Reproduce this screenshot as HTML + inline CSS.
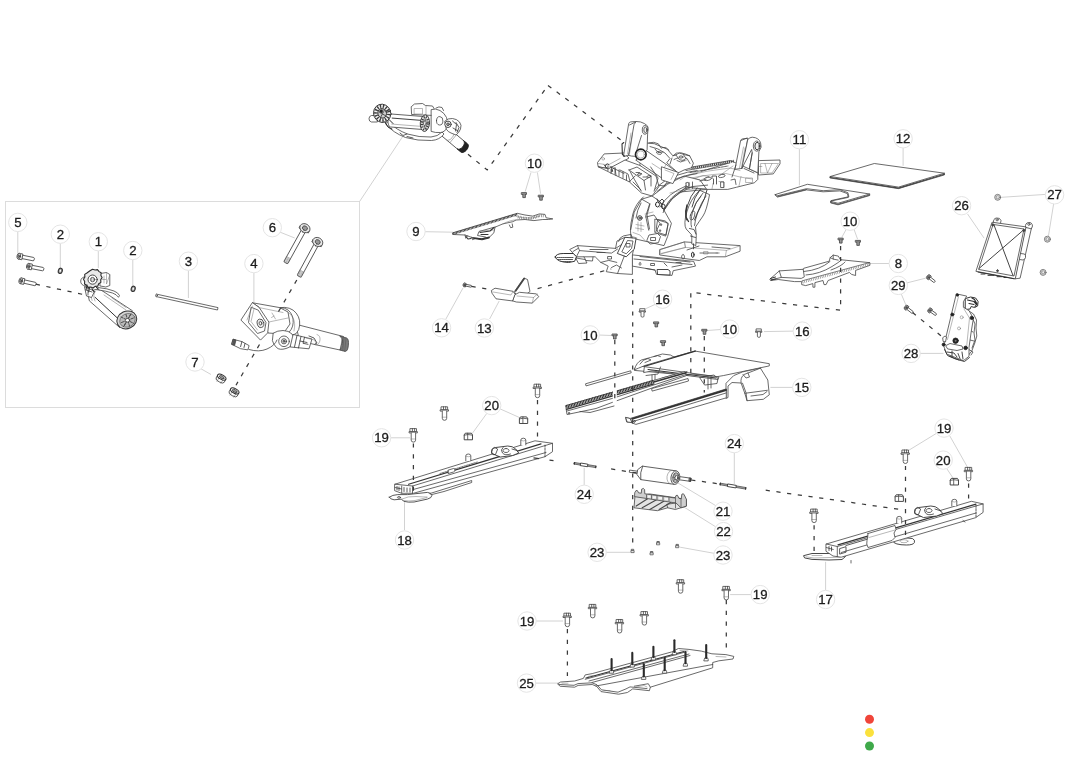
<!DOCTYPE html>
<html lang="en"><head><meta charset="utf-8"><title>Parts diagram</title>
<style>
html,body{margin:0;padding:0;background:#fff;}
body{width:1080px;height:764px;overflow:hidden;font-family:"Liberation Sans",sans-serif;}
svg{display:block;filter:blur(.45px)}
.ld{stroke:#d2d2d2;stroke-width:1;fill:none}
.ds{stroke:#3a3a3a;stroke-width:1.25;fill:none;stroke-dasharray:4.2 6.6}
.p{stroke:#444;stroke-width:.8;fill:none;stroke-linejoin:round;stroke-linecap:round}
.p .f,.f{fill:#fff}
.p .fd{fill:#999}
.p .g{fill:#e9e9e9}
.p .k{fill:#333}
.p .t{stroke-width:.5;stroke:#707070}
.p .h{stroke-width:1.2;stroke:#333}
.p .hh{stroke-width:1.8;stroke:#2a2a2a}
.lc{fill:#fff;stroke:#e4e4e4;stroke-width:1}
.lt{font-family:"Liberation Sans",sans-serif;font-size:13.2px;fill:#1c1c1c;stroke:#1c1c1c;stroke-width:.3px;text-anchor:middle}
</style></head>
<body>
<svg width="1080" height="764" viewBox="0 0 1080 764">
<rect x="5.5" y="201.5" width="354" height="206" fill="none" stroke="#dcdcdc" stroke-width="1"/>
<line x1="359.6" y1="201.5" x2="403" y2="136" class="ld"/>
<line x1="17.8" y1="231.7" x2="17.8" y2="253.3" class="ld"/>
<line x1="60.3" y1="243" x2="60.3" y2="267.5" class="ld"/>
<line x1="98.3" y1="251" x2="98.3" y2="268" class="ld"/>
<line x1="132.8" y1="259.7" x2="132.8" y2="285.8" class="ld"/>
<line x1="188.4" y1="270.5" x2="188.4" y2="298" class="ld"/>
<line x1="253.9" y1="273" x2="253.9" y2="302.4" class="ld"/>
<line x1="279.7" y1="232" x2="294.7" y2="238" class="ld"/>
<line x1="531" y1="172.4" x2="525.2" y2="191.6" class="ld"/>
<line x1="537.4" y1="172.4" x2="540.6" y2="193.7" class="ld"/>
<line x1="424.5" y1="231.7" x2="453.3" y2="232.2" class="ld"/>
<line x1="445.9" y1="319" x2="463" y2="288" class="ld"/>
<line x1="489.6" y1="319" x2="499.2" y2="301" class="ld"/>
<line x1="598.5" y1="335" x2="612" y2="335.5" class="ld"/>
<line x1="721" y1="329.5" x2="707" y2="330.5" class="ld"/>
<line x1="793.7" y1="331.1" x2="763.9" y2="331.6" class="ld"/>
<line x1="793" y1="387.4" x2="770.4" y2="387.4" class="ld"/>
<line x1="656" y1="304" x2="645" y2="309" class="ld"/>
<line x1="799.4" y1="148.6" x2="799.4" y2="185.3" class="ld"/>
<line x1="903.1" y1="147.6" x2="903.1" y2="165.8" class="ld"/>
<line x1="846.4" y1="229" x2="841.8" y2="237.3" class="ld"/>
<line x1="853.9" y1="229" x2="857.6" y2="239.2" class="ld"/>
<line x1="889.5" y1="263.5" x2="868" y2="263.5" class="ld"/>
<line x1="967.5" y1="213.9" x2="984.1" y2="238.2" class="ld"/>
<line x1="1045.5" y1="194.4" x2="1001.6" y2="197.3" class="ld"/>
<line x1="1053.7" y1="203.5" x2="1048.4" y2="236.3" class="ld"/>
<line x1="906.1" y1="283.1" x2="925.6" y2="278.2" class="ld"/>
<line x1="901.2" y1="293.8" x2="906.1" y2="305.5" class="ld"/>
<line x1="920" y1="353.4" x2="943.5" y2="353.4" class="ld"/>
<line x1="486.8" y1="413.4" x2="472.3" y2="433.4" class="ld"/>
<line x1="500.1" y1="408.9" x2="520.1" y2="417.8" class="ld"/>
<line x1="390.5" y1="437.8" x2="410" y2="437.8" class="ld"/>
<line x1="404.5" y1="502.3" x2="404.5" y2="530.4" class="ld"/>
<line x1="584.2" y1="467.8" x2="584.2" y2="485.6" class="ld"/>
<line x1="734.3" y1="452.4" x2="734.3" y2="484" class="ld"/>
<line x1="715.7" y1="505.6" x2="676.8" y2="482.3" class="ld"/>
<line x1="715.7" y1="526.8" x2="683.4" y2="506.7" class="ld"/>
<line x1="605.8" y1="552.3" x2="630" y2="552.3" class="ld"/>
<line x1="714.6" y1="553.4" x2="680.1" y2="547.2" class="ld"/>
<line x1="936.2" y1="433.5" x2="908.4" y2="450.5" class="ld"/>
<line x1="949.6" y1="435.6" x2="967.5" y2="467.2" class="ld"/>
<line x1="946.8" y1="468.7" x2="953.2" y2="478.3" class="ld"/>
<line x1="825.6" y1="561.8" x2="825.6" y2="590.4" class="ld"/>
<line x1="751.3" y1="594.6" x2="730.1" y2="594.6" class="ld"/>
<line x1="536.1" y1="621" x2="563.1" y2="621" class="ld"/>
<line x1="535.6" y1="683.1" x2="559" y2="683.1" class="ld"/>
<line x1="200.5" y1="368.5" x2="211" y2="374.5" class="ld"/>
<g transform="translate(413.4 435.4)" class="p"><path d="M-3.1 -6.8h6.2v3h-6.2z" class="f"/><path d="M-1 -6.8v3M1.2 -6.8v3"/><path d="M-4 -3.8h8v1.3h-8z" class="f"/><path d="M-2.2 -2.5v7.2q0 2 2.2 2t2.2 -2v-7.2" class="f"/><path d="M-2.2 3.6h4.4" class="t"/></g>
<g transform="translate(444.5 413.6)" class="p"><path d="M-3.1 -6.8h6.2v3h-6.2z" class="f"/><path d="M-1 -6.8v3M1.2 -6.8v3"/><path d="M-4 -3.8h8v1.3h-8z" class="f"/><path d="M-2.2 -2.5v7.2q0 2 2.2 2t2.2 -2v-7.2" class="f"/><path d="M-2.2 3.6h4.4" class="t"/></g>
<g transform="translate(537.5 391)" class="p"><path d="M-3.1 -6.8h6.2v3h-6.2z" class="f"/><path d="M-1 -6.8v3M1.2 -6.8v3"/><path d="M-4 -3.8h8v1.3h-8z" class="f"/><path d="M-2.2 -2.5v7.2q0 2 2.2 2t2.2 -2v-7.2" class="f"/><path d="M-2.2 3.6h4.4" class="t"/></g>
<g transform="translate(905.4 456.8)" class="p"><path d="M-3.1 -6.8h6.2v3h-6.2z" class="f"/><path d="M-1 -6.8v3M1.2 -6.8v3"/><path d="M-4 -3.8h8v1.3h-8z" class="f"/><path d="M-2.2 -2.5v7.2q0 2 2.2 2t2.2 -2v-7.2" class="f"/><path d="M-2.2 3.6h4.4" class="t"/></g>
<g transform="translate(968.6 474.2)" class="p"><path d="M-3.1 -6.8h6.2v3h-6.2z" class="f"/><path d="M-1 -6.8v3M1.2 -6.8v3"/><path d="M-4 -3.8h8v1.3h-8z" class="f"/><path d="M-2.2 -2.5v7.2q0 2 2.2 2t2.2 -2v-7.2" class="f"/><path d="M-2.2 3.6h4.4" class="t"/></g>
<g transform="translate(814.1 515.9)" class="p"><path d="M-3.1 -6.8h6.2v3h-6.2z" class="f"/><path d="M-1 -6.8v3M1.2 -6.8v3"/><path d="M-4 -3.8h8v1.3h-8z" class="f"/><path d="M-2.2 -2.5v7.2q0 2 2.2 2t2.2 -2v-7.2" class="f"/><path d="M-2.2 3.6h4.4" class="t"/></g>
<g transform="translate(567.4 620)" class="p"><path d="M-3.1 -6.8h6.2v3h-6.2z" class="f"/><path d="M-1 -6.8v3M1.2 -6.8v3"/><path d="M-4 -3.8h8v1.3h-8z" class="f"/><path d="M-2.2 -2.5v7.2q0 2 2.2 2t2.2 -2v-7.2" class="f"/><path d="M-2.2 3.6h4.4" class="t"/></g>
<g transform="translate(592.7 611.2)" class="p"><path d="M-3.1 -6.8h6.2v3h-6.2z" class="f"/><path d="M-1 -6.8v3M1.2 -6.8v3"/><path d="M-4 -3.8h8v1.3h-8z" class="f"/><path d="M-2.2 -2.5v7.2q0 2 2.2 2t2.2 -2v-7.2" class="f"/><path d="M-2.2 3.6h4.4" class="t"/></g>
<g transform="translate(619.6 626.3)" class="p"><path d="M-3.1 -6.8h6.2v3h-6.2z" class="f"/><path d="M-1 -6.8v3M1.2 -6.8v3"/><path d="M-4 -3.8h8v1.3h-8z" class="f"/><path d="M-2.2 -2.5v7.2q0 2 2.2 2t2.2 -2v-7.2" class="f"/><path d="M-2.2 3.6h4.4" class="t"/></g>
<g transform="translate(644.4 618.4)" class="p"><path d="M-3.1 -6.8h6.2v3h-6.2z" class="f"/><path d="M-1 -6.8v3M1.2 -6.8v3"/><path d="M-4 -3.8h8v1.3h-8z" class="f"/><path d="M-2.2 -2.5v7.2q0 2 2.2 2t2.2 -2v-7.2" class="f"/><path d="M-2.2 3.6h4.4" class="t"/></g>
<g transform="translate(680.6 586.5)" class="p"><path d="M-3.1 -6.8h6.2v3h-6.2z" class="f"/><path d="M-1 -6.8v3M1.2 -6.8v3"/><path d="M-4 -3.8h8v1.3h-8z" class="f"/><path d="M-2.2 -2.5v7.2q0 2 2.2 2t2.2 -2v-7.2" class="f"/><path d="M-2.2 3.6h4.4" class="t"/></g>
<g transform="translate(726.3 593.2)" class="p"><path d="M-3.1 -6.8h6.2v3h-6.2z" class="f"/><path d="M-1 -6.8v3M1.2 -6.8v3"/><path d="M-4 -3.8h8v1.3h-8z" class="f"/><path d="M-2.2 -2.5v7.2q0 2 2.2 2t2.2 -2v-7.2" class="f"/><path d="M-2.2 3.6h4.4" class="t"/></g>
<g transform="translate(468.3 436.3)" class="p"><path d="M-4.100 3.100V-1.400L-3 -3.100H3.100L4.200 -1.400V3.100z" class="f" style="stroke:#333;stroke-width:.9"/><path d="M-.600 -3.100V3.100M-4.100 -1.200q3.600 -1.200 8.300 0" /></g>
<g transform="translate(523.5 420)" class="p"><path d="M-4.100 3.100V-1.400L-3 -3.100H3.100L4.200 -1.400V3.100z" class="f" style="stroke:#333;stroke-width:.9"/><path d="M-.600 -3.100V3.100M-4.100 -1.200q3.600 -1.200 8.300 0" /></g>
<g transform="translate(954.3 481.5)" class="p"><path d="M-4.100 3.100V-1.400L-3 -3.100H3.100L4.200 -1.400V3.100z" class="f" style="stroke:#333;stroke-width:.9"/><path d="M-.600 -3.100V3.100M-4.100 -1.200q3.600 -1.200 8.300 0" /></g>
<g transform="translate(899.2 497.9)" class="p"><path d="M-4.100 3.100V-1.400L-3 -3.100H3.100L4.200 -1.400V3.100z" class="f" style="stroke:#333;stroke-width:.9"/><path d="M-.600 -3.100V3.100M-4.100 -1.200q3.600 -1.200 8.300 0" /></g>
<g transform="translate(524.1 195.2) scale(1)" class="p"><path d="M-2.4 -2.6h4.8v1.8h-4.8z" class="fd"/><path d="M-1.3 -0.8v3.2h2.6v-3.2" class="fd"/></g>
<g transform="translate(541 197.8) scale(1)" class="p"><path d="M-2.4 -2.6h4.8v1.8h-4.8z" class="fd"/><path d="M-1.3 -0.8v3.2h2.6v-3.2" class="fd"/></g>
<g transform="translate(614.8 336.6) scale(1)" class="p"><path d="M-2.4 -2.6h4.8v1.8h-4.8z" class="fd"/><path d="M-1.3 -0.8v3.2h2.6v-3.2" class="fd"/></g>
<g transform="translate(704.5 331.9) scale(1)" class="p"><path d="M-2.4 -2.6h4.8v1.8h-4.8z" class="fd"/><path d="M-1.3 -0.8v3.2h2.6v-3.2" class="fd"/></g>
<g transform="translate(840.8 240.7) scale(1)" class="p"><path d="M-2.4 -2.6h4.8v1.8h-4.8z" class="fd"/><path d="M-1.3 -0.8v3.2h2.6v-3.2" class="fd"/></g>
<g transform="translate(858.1 243) scale(1)" class="p"><path d="M-2.4 -2.6h4.8v1.8h-4.8z" class="fd"/><path d="M-1.3 -0.8v3.2h2.6v-3.2" class="fd"/></g>
<g transform="translate(656.3 324.5) scale(1)" class="p"><path d="M-2.4 -2.6h4.8v1.8h-4.8z" class="fd"/><path d="M-1.3 -0.8v3.2h2.6v-3.2" class="fd"/></g>
<g transform="translate(663.2 343.3) scale(1)" class="p"><path d="M-2.4 -2.6h4.8v1.8h-4.8z" class="fd"/><path d="M-1.3 -0.8v3.2h2.6v-3.2" class="fd"/></g>
<g transform="translate(642.5 312.7)" class="p"><path d="M-2.4 -4h4.8v2.4h-4.8z" class="f"/><path d="M-3 -1.6h6v1h-6z" class="f"/><path d="M-1.5 -0.6v4q0 1 1.5 1t1.5 -1v-4" class="f"/></g>
<g transform="translate(758.9 332.9)" class="p"><path d="M-2.4 -4h4.8v2.4h-4.8z" class="f"/><path d="M-3 -1.6h6v1h-6z" class="f"/><path d="M-1.5 -0.6v4q0 1 1.5 1t1.5 -1v-4" class="f"/></g>
<g transform="translate(632.7 551.2)" class="p"><path d="M-1 -1.900h2v1.400h-2z" class="f"/><path d="M-1.400 -0.500h2.800v1.900h-2.800z" class="f" style="stroke:#555"/></g>
<g transform="translate(651.8 553.4)" class="p"><path d="M-1 -1.900h2v1.400h-2z" class="f"/><path d="M-1.400 -0.500h2.800v1.900h-2.800z" class="f" style="stroke:#555"/></g>
<g transform="translate(658.3 543.4)" class="p"><path d="M-1 -1.900h2v1.400h-2z" class="f"/><path d="M-1.400 -0.500h2.800v1.900h-2.800z" class="f" style="stroke:#555"/></g>
<g transform="translate(677.4 546.3)" class="p"><path d="M-1 -1.900h2v1.400h-2z" class="f"/><path d="M-1.400 -0.500h2.800v1.900h-2.800z" class="f" style="stroke:#555"/></g>
<g transform="translate(18.8 256.2) rotate(11.4)" class="p"><path d="M3.6 -1.7H14.908914666519777l.8 .6V1.1l-.8 .6H3.6z" class="f"/><path d="M0 -2.9H3.6V2.9H0" class="f"/><ellipse cx="0" cy="0" rx="1.80" ry="2.9" class="g"/><ellipse cx="0" cy="0" rx="0.90" ry="1.45" class="fd"/></g>
<g transform="translate(28.3 266.3) rotate(11.0)" class="p"><path d="M3.6 -1.7H14.889486925964151l.8 .6V1.1l-.8 .6H3.6z" class="f"/><path d="M0 -2.9H3.6V2.9H0" class="f"/><ellipse cx="0" cy="0" rx="1.80" ry="2.9" class="g"/><ellipse cx="0" cy="0" rx="0.90" ry="1.45" class="fd"/></g>
<g transform="translate(20.7 280.8) rotate(12.5)" class="p"><path d="M3.6 -1.7H14.873225577397903l.8 .6V1.1l-.8 .6H3.6z" class="f"/><path d="M0 -2.9H3.6V2.9H0" class="f"/><ellipse cx="0" cy="0" rx="1.80" ry="2.9" class="g"/><ellipse cx="0" cy="0" rx="0.90" ry="1.45" class="fd"/></g>
<g class="p"><ellipse cx="60.3" cy="270.8" rx="2" ry="2.7" class="fd" transform="rotate(15 60.3 270.8)" style="stroke-width:1.1;stroke:#333"/><ellipse cx="60.3" cy="270.8" rx=".7" ry="1.2" class="f" transform="rotate(15 60.3 270.8)" style="stroke:none"/></g>
<g class="p"><ellipse cx="133.2" cy="288.8" rx="2" ry="2.7" class="fd" transform="rotate(15 133.2 288.8)" style="stroke-width:1.1;stroke:#333"/><ellipse cx="133.2" cy="288.8" rx=".7" ry="1.2" class="f" transform="rotate(15 133.2 288.8)" style="stroke:none"/></g>
<g class="p"><path d="M156.8 294.2L218 307.6l-.5 2.4L156.3 296.6z" class="f"/><ellipse cx="156.6" cy="295.4" rx=".8" ry="1.3" class="f"/></g>
<g class="p">
<path d="M100.100 289.400L132.500 310.800 120 327.800 89.400 300.900q-2.500 -4.500 1 -8.500t9.700 -3z" class="f"/>
<path d="M95.100 297.300L116.700 317.400" style="stroke:#333;stroke-width:1"/>
<path d="M92.500 292.500q-3 3.500 -.500 8M96 290.500q-4 4.500 -1 10.500M104 295l22 15M112 298l14 9.500" class="t"/>
<ellipse cx="126.800" cy="319.900" rx="10.200" ry="8.700" transform="rotate(-25 126.800 319.900)" style="fill:#d6d6d6;stroke:#333;stroke-width:1"/>
<ellipse cx="127.500" cy="320.300" rx="8" ry="6.600" transform="rotate(-25 127.500 320.300)" style="fill:#bcbcbc;stroke:#555;stroke-width:.6"/>
<path d="M121 317l13 6.500M124.500 325.500l6 -11M121.500 322.500l12 -4.500M126 314.500l3.500 11.500M131 314l-7.500 12.500" style="stroke:#4a4a4a;stroke-width:1;stroke-dasharray:2.200 1.300"/>
<ellipse cx="127.500" cy="320.300" rx="2.200" ry="1.800" class="f"/>
<path d="M98 287.5q10 1 16 3.5q4 1.5 5.5 4.5l-1 1.8q-2 -3 -6 -4.3q-6 -2 -15 -3.2z" class="f"/>
<path d="M100.5 273.5l6 -1 3.3 2v11l-4 1.5-5.5 -1z" class="f"/><path d="M104 276v7M102.5 279.5h3.2M106.5 272.5v11.5l3.3 -9" class="t"/>
<path d="M86 276.5q-5 .5 -5.3 4.5t4.8 5.2z" class="f"/>
<path d="M84.5 287l2 9 5 1.5 3 -6z" class="f"/><path d="M86 290l6 2M88 286v9" />
<path d="M90 270.8l2.5 -1.6 2.6 .8 2.4 -.4 1.6 2 2 1.2-.2 2.6 1.2 2.2-1.4 2.2.2 2.6-2.2 1.4-1 2.4-2.6 .2-2 1.6-2.4-1-2.6 .4-1.4-2.2-2.2-1.2.2-2.6-1.2-2.2 1.400-2.200-.2-2.600 2.2-1.400z" class="g" style="stroke:#2c2c2c;stroke-width:1.1"/>
<circle cx="92.6" cy="279.6" r="4.6" class="f" style="stroke:#333;stroke-width:.9"/>
<circle cx="92.6" cy="279.6" r="2.2" class="g"/><path d="M91.6 277.6v4M93.4 277.8v3.6" class="t"/>
<path d="M87 285l-1 5M89.5 287.5l-.8 4.500M92 288.500l2 3.500M96 287l3 2.500" style="stroke:#2c2c2c;stroke-width:1"/>
</g>
<g transform="translate(304.9 228.2) rotate(119.0)" class="p"><path d="M2.6 -2.2H38.857660041913704l.8 .6V1.6l-.8 .6H2.6z" class="f"/><path d="M33.6576600419137 -2.2V2.2" class="t"/><path d="M34.7 -2.2V2.2" class="t"/><path d="M35.8 -2.2V2.2" class="t"/><path d="M36.9 -2.2V2.2" class="t"/><path d="M38.0 -2.2V2.2" class="t"/><path d="M39.1 -2.2V2.2" class="t"/><path d="M0 -5.3H2.6V5.3H0" class="f"/><ellipse cx="0" cy="0" rx="4.35" ry="5.3" class="g"/><ellipse cx="0" cy="0" rx="2.17" ry="2.65" class="fd"/></g>
<g transform="translate(317.7 242) rotate(118.5)" class="p"><path d="M2.6 -2.2H38.354182407502755l.8 .6V1.6l-.8 .6H2.6z" class="f"/><path d="M33.15418240750275 -2.2V2.2" class="t"/><path d="M34.2 -2.2V2.2" class="t"/><path d="M35.3 -2.2V2.2" class="t"/><path d="M36.4 -2.2V2.2" class="t"/><path d="M37.5 -2.2V2.2" class="t"/><path d="M38.6 -2.2V2.2" class="t"/><path d="M0 -5.3H2.6V5.3H0" class="f"/><ellipse cx="0" cy="0" rx="4.35" ry="5.3" class="g"/><ellipse cx="0" cy="0" rx="2.17" ry="2.65" class="fd"/></g>
<g transform="translate(221.2 378.2) rotate(28)" class="p"><path d="M-4.6 -1.2v3.4q0 2 4.6 2t4.6 -2v-3.4" class="f"/><path d="M-2.2 1v3.8M2.2 1v3.8" class="t"/><ellipse cx="0" cy="-1.2" rx="4.6" ry="2.3" class="f" style="stroke:#2c2c2c;stroke-width:1"/><ellipse cx="0" cy="-1.2" rx="2.6" ry="1.2" class="fd"/></g>
<g transform="translate(234.2 392) rotate(28)" class="p"><path d="M-4.6 -1.2v3.4q0 2 4.6 2t4.6 -2v-3.4" class="f"/><path d="M-2.2 1v3.8M2.2 1v3.8" class="t"/><ellipse cx="0" cy="-1.2" rx="4.6" ry="2.3" class="f" style="stroke:#2c2c2c;stroke-width:1"/><ellipse cx="0" cy="-1.2" rx="2.6" ry="1.2" class="fd"/></g>
<g class="p">
<path d="M296 324.3L343.5 336.5 340 350 316 344.8 300 341z" class="f"/>
<path d="M317 334.5q3.5 1 3 5.500t-4 4.800" class="t"/>
<path d="M340.2 336.2l6.400 1.800q2.400 1 1.800 7.200t-3.200 6.200l-5.400 -1.400q2.400 -1.600 2.800 -6.800t-2.400 -7z" style="fill:#7a7a7a;stroke:#444"/>
<path d="M342 337l-1.300 13.200M344 337.600l-1.300 13.200M346 338.200l-1.300 13.200" style="stroke:#555;stroke-width:.5"/>
<path d="M279.7 307.6q11 -1.500 16.500 5.500t2.500 16.500q-2 5 -6 5.500l-6 -1q6 -4 6.500 -11.500t-5 -12.500q-3 -2.500 -8.500 -2.500z" class="f"/>
<path d="M283 310.500q6 1 9.500 6.500t1.500 14" class="t"/>
<path d="M252.7 302.8L279.700 307.600 288 312 290 324 283 334 268 333 259.300 307.600z" class="f"/>
<path d="M259.300 307.600L283 312.500M268.900 322L288 318M272 313l3.500 6M274 316l-2.500 1.500" class="t"/>
<path d="M252.7 302.800L259.300 307.600 268.900 322.100 267.700 332.900 260.500 340.100 241.200 320.300z" class="f"/>
<path d="M251 307.600L248.500 322.500 257.500 333.500 264.500 331 266 322.500 258.500 310.500z"/>
<path d="M252.500 306l-5.500 14M254 309l-3 12.500 6.500 8.500" class="t"/>
<ellipse cx="260.500" cy="323.300" rx="3.300" ry="4.300" class="g" transform="rotate(-15 260.5 323.3)"/>
<ellipse cx="260.500" cy="323.300" rx="1.300" ry="1.800" class="f" transform="rotate(-15 260.5 323.3)"/>
<path d="M273.500 333q4 -2.500 9.500 -2.500t9 3.500 2 8-8 6.500-9.500-1-4-6.500z" class="f"/>
<circle cx="284" cy="341.300" r="5.300" class="f"/><circle cx="284" cy="341.300" r="2.600" class="g"/><circle cx="284" cy="341.300" r="1" class="fd"/>
<path d="M293.500 334.500L312 339 309 348.800 290.500 347z" class="f"/>
<path d="M297 335.500l-2.500 11.500M301 336.500l-2.500 11.500M304.500 337.300l-1.500 6 5 1M300 341l7 1.500M309 336l5 2 3 5-2 1" style="stroke:#333"/>
<path d="M306 338l8.500 2 2 4" class="t"/>
<path d="M249 349.500q10 3 18 -.5t10 -9" />
<path d="M233.400 339.300l8.500 2.300 7.200 4-1.200 4.300-7.300-1.200-8.600-4.200z" class="f"/>
<path d="M233.400 339.300l2.600 .8-1.400 5.200-2.600-.8z" style="fill:#555"/>
<path d="M241.900 341.600l-1.300 5M245 343.500l-1 4" style="stroke:#333"/>
</g>
<g class="p">
<g transform="translate(444 131) rotate(40)"><path d="M0 -5.2H26a3 5.2 0 0 1 0 10.4H0z" class="f"/><path d="M8 -5.2a2.5 5.2 0 0 1 0 10.4M12 -5.2v10.4" class="t"/><path d="M21.5 -5.2H26.500a3 5.200 0 0 1 0 10.400H21.500a3 5.200 0 0 0 0 -10.400z" style="fill:#222;stroke:#222"/></g>
<path d="M385.500 124q8 9 20 13.500 12 3.500 26 3 8 -.500 12.500 -6.500l-2 -2q-4 4.500 -11 5 -12 .500 -23.500 -3 -11 -4 -19 -12z" class="f"/>
<path d="M400 133l3 2.500 4 -1.500M407 136.500l6 1.500" style="stroke:#333"/>
<path d="M411.500 106.500l3 -2.500 8 -.500 3 2 7 .500 1.500 2.500v7l-22 -1z" class="f"/>
<path d="M414.500 108.500h8v5.500h-8zM426 106v8.500" class="t"/>
<path d="M431.500 109.500q4 -1.500 8.500 1t6.500 7 .500 9.500-6.500 5.500-9 -1z" class="f"/>
<path d="M436 108q3 -2 6 -.500l1.500 3" />
<path d="M436.500 120.500a3.200 4.200 0 1 0 6.400 .6 3.200 4.200 0 1 0 -6.400 -.6z" class="f"/>
<path d="M445 121q3 -3 7.500 -2.500t7 3.500 1 7-4.500 6l-5 -2q-3 -1 -4.500 -3.500z" class="f"/>
<circle cx="448" cy="124.300" r="3.200" class="f" style="stroke:#333;stroke-width:.9"/><circle cx="448" cy="124.300" r="1.400" class="fd"/>
<path d="M452.500 121l4 3.500 -1 6.500M456 122.500l3 5 -2 5M453 128l5 3" style="stroke:#333"/>
<g transform="translate(391 120.500) rotate(4.500)"><path d="M0 -6.500H32V6.500H0a3 6.500 0 0 1 0 -13z" class="f"/><path d="M1 -2.500H31" style="stroke:#333;stroke-width:.9"/><path d="M1 3.500H31" class="t"/><ellipse cx="34" cy="0" rx="4.600" ry="8.300" style="fill:#f2f2f2;stroke:#333;stroke-width:.9"/><ellipse cx="34" cy="0" rx="3.100" ry="6.200" style="fill:#c8c8c8;stroke:#3c3c3c;stroke-width:2.400;stroke-dasharray:1.200 1.300;stroke-linecap:butt"/><path d="M34 -4v8M32.500 -2l3 4" style="stroke:#444;stroke-width:.8"/><ellipse cx="34" cy="0" rx="1.300" ry="2.400" class="f"/></g>
<path d="M377 115.500h-5.500q-2.500 .500 -2.500 3.300t2.500 3.200h5.500z" class="f"/>
<ellipse cx="382.200" cy="113.300" rx="8.600" ry="9.200" transform="rotate(-20 382.200 113.300)" style="fill:#f4f4f4;stroke:#333;stroke-width:.9"/>
<ellipse cx="382.200" cy="113.300" rx="6.300" ry="6.900" transform="rotate(-20 382.200 113.300)" style="fill:none;stroke:#3c3c3c;stroke-width:3.400;stroke-dasharray:1.300 1.500;stroke-linecap:butt"/>
<ellipse cx="382.200" cy="113.300" rx="4.300" ry="4.800" transform="rotate(-20 382.200 113.300)" style="fill:#cfcfcf;stroke:#333;stroke-width:.9"/>
<path d="M379 112l7 4M384.500 110l-4 7.500" style="stroke:#444;stroke-width:.9"/>
<circle cx="381.300" cy="111.300" r="2" style="fill:#222;stroke:#999;stroke-width:.6"/>
<path d="M385 122l3 5 4 2M389 119.500l4 4" style="stroke:#2a2a2a;stroke-width:1"/>
</g>
<g class="p">
<path d="M452.800 232.800L517.200 213.300 525 215 532.800 216.100 539.400 213.900 545 214.400 546.100 217.800 552.800 218.900 548.300 219.500 542.800 219.500 533.900 220.600 525 219.500 516.100 220 512.800 221.700 502.800 223.900 495 227.200 493.900 232.800 489.400 237.200 481.700 238.900 472.800 237.800 465 235 453 234.500z" class="f"/>
<path d="M453.300 233.700L517.700 214.200" style="stroke:#3a3a3a;stroke-width:2.300;stroke-dasharray:.9 .5;stroke-linecap:butt"/>
<path d="M465 235l.800 3.300 1.700 -2.500M471.700 237.200l.800 2.500 2 -.800M509.400 225l1.200 2.700 2.200 -.500 -.600 -3.300M495 227l-16 4.500 -1.500 4 8 1.500" />
<path d="M516.100 216.500q8 2 17 1.500l6 -2M502.800 223.900q8 -4 13 -4M480 231l14 -1" class="t"/>
<path d="M472.800 237.800l9 1.100 7.600 -1.700" style="stroke:#333;stroke-width:1.200"/>
<path d="M518 216.800q7 2.400 14.500 1.300l7 -2.500 5 .400" style="stroke:#666;stroke-width:3;stroke-dasharray:.6 1.100;stroke-linecap:butt"/>
<path d="M466 236.500l2 2.500 3 -.500M474 238.500l8 1.300 7 -1.800M480 232.500l10 -1.500 4 -3.500M481 234.500h7" style="stroke:#333;stroke-width:1.100"/>
</g>
<g transform="translate(464.2 284.9) rotate(11.2)" class="p"><path d="M1.6 -0.9H6.9466121627457476l.8 .6V0.30000000000000004l-.8 .6H1.6z" class="f"/><path d="M0 -1.8H1.6V1.8H0" class="f"/><ellipse cx="0" cy="0" rx="1.12" ry="1.8" class="g"/><ellipse cx="0" cy="0" rx="0.56" ry="0.90" class="fd"/></g>
<g class="p">
<path d="M514.500 291.500L523.800 278 527.500 279.500 530 291.500 520 299z" class="f"/>
<path d="M515.600 291L524.300 278.500" style="stroke:#444;stroke-width:1.600"/>
<path d="M491.700 290.300L495 288.200 513 291.300 515.300 294.500 513 301 496 298.800 492.200 293.500z" class="f"/>
<path d="M515.300 294.500L519.500 292.300 536.500 293.900 538.700 296.700 532.300 303.100 516.300 302 513 301z" class="f"/>
<path d="M493 292l18 3 2 -3.500M517 296l16.500 1.500 4 -3.500M533.500 297.500l-1.200 5.500" class="t"/>
</g>
<g class="p">
<path d="M660 249.500L684.400 241.900 740.100 245.600 740.100 251.200 725.300 256.800 707 256.800 699.300 260.500 688 259 660 255z" class="f"/>
<path d="M684.400 241.900l1 5.500 41 3 13.500 -4.500M685.400 247.400l-24 6M726.400 250.400l-1 6M704 251.500h4v2.500h-4zM716 253h3.500" class="t"/>
<path d="M699.300 190.500q-9 9 -12.500 21.500t-.600 17l5.600 6v9l4 1.500 .500 -10 -.800 -8.500q4 -6 7.500 -11t6.500 -21z" class="f"/>
<path d="M703 193q-8 9 -10.500 19t-1 15M706 196q-5 7 -8 15.500t-3.500 14M692 212q3 -9 9 -16M690.500 215a2 4.500 15 1 0 4 1 2 4.500 15 1 0 -4 -1z"/>
<path d="M689.500 228.500l4.500 1 2 4.500M690.500 236l5 1.500M693.500 243.800v5" style="stroke:#333"/>
<ellipse cx="692.800" cy="254.800" rx="1.300" ry="2.600" style="stroke:#222;stroke-width:1"/>
<path d="M758.900 160.600L780 160 780 163.900 773.300 173.900 758.900 175z" class="f"/>
<path d="M761 163.500h17.500l-6.500 9.500h-11zM765 163.500l2.500 9.500 4.500 -9.500M758.900 166.500h3" class="t"/>
<path d="M684.400 168.300L730 160.600 735.600 162.800 757.800 172.800 757.800 179.400 754.400 182.800 736.700 187.200 727.800 189.400 706.700 189.400 670 193 664 184 672 174z" class="f"/>
<path d="M686 170.500l44 -7.500M690 172.500l38 -6.500" style="stroke:#444;stroke-dasharray:2.500 1"/>
<path d="M686 176q20 -5.500 44 -8l10 2.500M676 182q22 -7 50 -8.500l14 3.500 12 2M741 176.500l-2 9.500M713 183.500l-1 5.500M719 181.500h4.500v5.500M746 178h6.500v4.500h-6.500zM695 178.500l8 -3 6 1 -8 3.500zM733 166l-14 10" class="t"/>
<path d="M712 178.500v-2.500h4.500v2.500M713.500 179v5M716.500 179v5" style="stroke:#333"/>
<path d="M735 168.900L740.600 140.600q.600 -1.600 2.200 -1.800l5 -.400 -5.600 29.600z" class="f"/>
<path d="M741.800 168.300L747.800 139.400q2 -2 4.400 -2.200 3.600 .200 5.600 1.700t2.800 3.900l.500 4.400 -2.200 4.500 -1.100 21.100 -8.400 -3.900 2.800 -16.100 -.500 -3z" class="f"/>
<path d="M743.500 147l-4 21M745 148l-3.500 19.500" class="t"/>
<path d="M752.200 152.800l-2.800 16.100M741 140.500l6 -2.500" />
<ellipse cx="756.700" cy="146.100" rx="3.400" ry="5.100" class="f"/><ellipse cx="757.100" cy="146.100" rx="2.200" ry="3.700" style="fill:#f0f0f0;stroke:#333;stroke-width:1"/>
<path d="M646 143L654.300 143.700 667.400 149.300 672.900 155.800 680.400 153.900 689.700 155.800 693.400 163.200 691.500 167.800 684 170 672 176 664 186 650 184 640 165z" class="f"/>
<path d="M650 146.500q8 1.500 15 6.500l5 5.500 -3 4M655 149l3 3.500 5 -.500M674 159.500q6 -3.500 13 -1l3 5M677 160.500l3.500 1.500 4 -1.500M667 163l10 9M672 158l-2 6" />
<path d="M682.500 160a2.300 1.300 -15 1 0 4.500 -.8 2.300 1.300 -15 1 0 -4.500 .8z" class="t"/>
<path d="M646.500 150.800L676.900 171.800 663.300 179.100 636.100 160.300z" class="f"/>
<path d="M666 164.500l-3.500 6.500 8 5.500M662 170l-10 -6.500" class="t"/>
<path d="M597.700 162.300L604.200 153.900 623.700 153 629 158 620 163.500 608.800 168.600 598.600 166.900z" class="f"/>
<path d="M598.600 163.500l9.500 1.500 12 -6.500M608.100 165v3.500" class="t"/><circle cx="603.200" cy="158.800" r="1.300" class="t"/>
<path d="M598.600 166.900L613.500 174.300 629.300 181.800 641.300 192.900 652 196 659 186.500 656 176 640 165.500 625 160 608.800 168.600z" class="f"/>
<path d="M611 169.500v4M615 167.500l1 8M620 170l8 4 2 7.500M629 170l8 -3 14 9 -7 4.500 -15 -10.500zM629.300 181.800l6 -6M644 180.500l1.500 9.500M651 176v10M636 172.500h3.500M643 177h3.500" />
<path d="M623.500 156.100L628.700 123.600q.500 -1.500 2 -1.700l5.400 -.400 -7.400 33.500z" class="f"/>
<path d="M628.700 155L634 124.700l2.100 -3.200q4.500 -.200 8.400 2.100t3.600 4.200l-.500 6.300 -.500 15.700 -5 7 -10.200 -.700z" class="f"/>
<path d="M631 133l-3.500 21M632.500 134l-3 20" class="t"/>
<path d="M641.500 135.500l-6 19M629.500 125l5 -2.500" />
<path d="M623.800 142.500l-1.800 1.500 .400 10.500 2.200 1.600" style="stroke:#333;stroke-width:1.100"/>
<ellipse cx="645" cy="129.900" rx="2.700" ry="4.300" class="f"/><ellipse cx="645.300" cy="129.900" rx="1.500" ry="2.800" style="fill:#f0f0f0;stroke:#444;stroke-width:.8"/>
<circle cx="640.800" cy="154.500" r="5.300" class="f" style="stroke:#222;stroke-width:1.700"/>
<circle cx="640.800" cy="154.500" r="3.600" class="t"/>
<path d="M652 196L641.700 199.200 634.200 212.200 630.500 230.800 631 238 640 240 664 245.600 667.700 236.300 671.400 223.300 664 210.300 672 199 686 187 706.700 189.400 700 180 684 176 668 184z" class="f"/>
<path d="M664 210.300q6 -14 24 -21.500M660 207q8 -14 26 -21M641.700 199.200l8 4.500 -4 12.500 3 14M652 196l8 5.500 4 8.800M646 217l8 -2 6 8.500 -4 8" />
<path d="M659.500 201.500l2.500 -2.500 2 2 -1.500 3zM657 199l1.500 3.500" style="stroke:#333;stroke-width:.9"/>
<circle cx="639.800" cy="218" r="2.300" style="stroke:#333;stroke-width:.9"/><circle cx="639.800" cy="218" r="1" class="fd"/>
<path d="M636 224.500l8 1.500M635.500 228l8 1.500M638 222v9M641 222.500v9" class="t"/>
<path d="M658 219.500l7.500 1.500 2.500 3.500 -2 10.500 -8 -2.500 -1.500 -4zM661 224a.8 .8 0 1 0 .1 0M660 230a.8 .8 0 1 0 .1 0" />
<path d="M647 240l2 -5 8.500 -1.500 3 3 -2 6 -8 1.500zM651 237.500h4.500v3h-4.500z" />
<path d="M632.400 254.900L693.700 261.400 695.500 266.100 673.200 270.700 672 275.400 656.500 274.400 655 270 632.400 266.100z" class="f"/>
<path d="M634 259l58 5.500M640 262.500a.9 1.400 0 1 0 .1 0M651 263.500h3.500v2h-3.500zM664 263l3 3M676 262.500h5M683 254.500a1.500 2.200 0 1 0 .1 0" />
<path d="M657.500 269.500h10.500l2 1.500v4l-12 -.500z" class="f" style="stroke:#333;stroke-width:.9"/>
<path d="M570.100 249.300L577.500 245.600 615.600 248.400 624 243 634 247 632.400 254.900 632.400 274.400 617.500 273.500 606.300 271.700 608.200 266.100 600.800 262.400 595.200 256.800 576.600 256.800z" class="f"/>
<path d="M577.500 245.600l2 5 32 2.500 6 -4M579.500 250.600l-3 6M584 257l2 3.500 6.500 .500 .500 -4M608 256.500h3.500v2.500h-3.500zM611.500 267.500l5 -2.500 5 3M617.500 273.500l7 -18" />
<path d="M617.500 253.100L624.900 237.300 636.100 238.200 634.200 249.300 626.500 256.500z" class="f" style="stroke:#333;stroke-width:.9"/>
<path d="M622 251.500l5.500 -11 5.500 .500 -1.500 7.500 -5 5zM626.500 243.500h3.500v3.500h-3.500z" />
<path d="M615.500 248.500l1.500 -7.500 7.500 -3.500" />
<path d="M555.200 257q1 -3.500 8 -3.500h10l3.400 3.300 -2 4.500 -6 1.200q-12 -.500 -13.400 -5.500z" class="f" style="stroke:#333;stroke-width:1"/>
<path d="M557 257.500h16M558 259.500h15M561 261.500h10" style="stroke:#444;stroke-width:.9;stroke-dasharray:1.200 .7"/>
<path d="M576 258l9 1.500 2 3.500 -8 .500z" class="f"/>
</g>
<g class="p">
<path d="M691.500 168.300L734 161" style="stroke:#444;stroke-width:2.400;stroke-dasharray:1.100 .8;stroke-linecap:butt"/>
<path d="M686 183v6.500M689 182.500v6.500M692.500 182v6.500M686 183q3 -2 3 1.500t-3 1.500M709 177.100a3.800 1.600 -12 1 0 .1 0M723 174.300a3.500 1.500 -12 1 0 .1 0M721 182h3v5.500h-3zM731 180l4 -1 1 5.500M700 181l6 -1.500M744 168.500l10 4.500M736 165l-4 12M727 163.500l-26 8" />
<path d="M670 193q14 -4.500 36 -4.500M680 179.900q8 -6 20 -8" class="t"/>
<path d="M655.200 189q9 -9.500 21 -13.500t21 -5M657 191.500q9 -9 20 -13t20 -5" />
<path d="M663.100 212.600q4 -12 13 -18.500t16 -7.500l15.500 -1.500" />
<path d="M697 188q-7 8 -9.500 17.500t-1 14.500M700.500 189q-7 9 -8.500 18M707 190q-2 9 -6.500 17t-6 13" style="stroke:#333;stroke-width:.9"/>
<path d="M687 205q-2 6 -1 12l2.500 4.500" style="stroke:#333;stroke-width:1.300"/>
<path d="M607.900 170.600v-4M611.500 172v-5M615 174v-5M619 176v-6M623 178v-6M626.500 180v-5M610 166.500l14 7M604 165l3 3" style="stroke:#444"/>
<path d="M606 168q-1.500 -2 0 -3.500t3 0M612.500 171.500q-1 -2.500 1 -3.500" style="stroke:#333;stroke-width:.9"/>
<ellipse cx="639.500" cy="174.300" rx="2" ry="1" transform="rotate(-15 639.5 174.3)" class="g"/><ellipse cx="648.800" cy="176.600" rx="2" ry="1" transform="rotate(-15 648.8 176.600)" class="g"/>
<path d="M630.200 171.600l4 7.500 7 12M650.600 166.900l7.500 11.200 -4 13M633 182l8 8" />
<path d="M661.800 166.900L678.500 172.500 672.900 183.600 661.800 179.900z" class="f"/><path d="M665 170l9 3.500 -3 6" class="t"/>
<path d="M648.800 142.800q5 -1.500 9.500 1l3 4.500M662 147.500q4 -1.500 7 2.500M658 151.500a2.600 1.300 15 1 0 .1 0M672.900 155.800q3 -4 8 -3t8.800 3" />
<path d="M676 154.500q3 -2.500 7 -.500l3 4.500q-3 3 -6 1.500z" class="f"/><ellipse cx="681" cy="157" rx="2" ry="1.100" class="g"/>
<path d="M643.400 196.900q-8 7 -10.500 17t-2.500 16M641 203q-4 7 -5 15M650 204l-3 11 2.500 14M655.200 219.100l13 4 -2.500 13 -10.500 -3.500z" />
<path d="M633 232.500l7 2.500 5 5.500M631 236l6 2M645 214l8 -2" class="t"/>
<path d="M655.500 204.500a2 2.500 0 1 0 4 0 2 2.500 0 1 0 -4 0zM661.500 206.500a1.800 2.300 0 1 0 3.600 0 1.800 2.300 0 1 0 -3.600 0z" style="stroke:#333;stroke-width:1"/>
<path d="M618.600 241.400q1 -4.500 5 -5.500l7.500 -1.500 1 3.500" />
<path d="M573 251.500l5 -3M590 249.500h18M597 252.500h8M600.800 262.400l8 -2 8 2M640 256.500l50 5.500M646 268.500l9 1.500M672 267l10 -2M699 246l-12 4M712 247l18 1.500M700 253h18" />
<path d="M660.500 249.500l24 -7.500 1 5.500 -25 6.500z" class="t"/>
</g>
<g class="p">
<path d="M585.900 383.700L630.700 370.800 631.200 372.800 586.400 385.800z" class="f"/>
<path d="M695.200 351.100L769.300 363.700 769.300 365.900 723.300 375.600 712 377.500 634.400 370.400 634.400 368.800z" class="f"/>
<path d="M644 366.300L695.200 351.100" style="stroke:#333;stroke-width:1.500"/>
<path d="M634.400 369.500q2 -7 7 -9.500l9 -2.500 12 -3.500 8 1 3.500 2 -29 8.500 -6 2.500z" class="f"/>
<path d="M640 364q3 -5 8 -5.500l3 1.500 -6 2.500M654 356.500q4 -2 6.500 0" />
<path d="M644.800 366.700L718.900 377 718 379.500 652 371 644 372.500z" class="f"/>
<path d="M648 369.500l68 8.500" style="stroke:#333;stroke-width:1"/>
<path d="M646 375.500l12 -1.500 2.500 -7M652 375v8.500M655 374.500v8.500M662 378l25 -6.500M664 381l28 -7 20 2" />
<path d="M700 377.500l14 -2.500 4 3.500 -1 5 -12 1.500zM708 377v12M711 377v11" />
<path d="M565.800 405.600L684.800 371.500 686.500 375.500 612 402.500 596 408.500 567 414.500 566 408z" class="f"/>
<path d="M566.300 406.900L653.800 381.400" style="stroke:#333;stroke-width:3.600;stroke-dasharray:1.100 .5;stroke-linecap:butt"/>
<path d="M566.500 409.400L654 383.900" style="stroke:#333;stroke-width:1.200"/>
<path d="M653.800 382.100L686 372.800" style="stroke:#333;stroke-width:1.600"/>
<path d="M567 411l45 -12.500 74 -24M580 411.500l10 1 24 -6.500M569 412.500a.8 .8 0 1 0 .1 0" />
<path d="M612.800 386.500h4v17h-4z" style="fill:#fff;stroke:none"/>
<path d="M652 388.500l36 -10 .500 2.500 -36 10z" class="f"/>
<path d="M726.300 383L733.700 375.600 742.600 371.900 760.400 368.100 767.800 380 769.300 394.800 763.300 399.300 747 400.700 744.800 393.300 741.100 383 732 382.500 728 386v11.500l-1.700 .800z" class="f"/>
<path d="M741.100 383q-1 -5.500 3 -8.500l16.500 -6.400M747 400.700l-1 -8 -3.500 -9.500M744.800 393.300l22.500 -3M751 396l12 -1.500 4 -3M743 374.500l3 3.500 3.500 -1 -1.500 -4" />
<path d="M630 418.500L726.300 388.900 726.300 397.800 635.900 424.400 631 422.500z" class="f"/>
<path d="M632 418.800L726 390" style="stroke:#333;stroke-width:1.900"/>
<path d="M633 421.500l93 -28.500M626 417.500l4 1 2 4 -5 -.500zM634.500 420.500a.9 .9 0 1 0 .1 0" />
<path d="M626 417.500l4 1 2 4 -4.500 -.500z" class="f"/>
</g>
<g class="p">
<path d="M389.300 497.200q3 -2.400 8.500 -2.600l9.600 0 20 -2.200q4.500 .500 4.500 3t-4.500 3.700l-13.300 2.900q-6 .600 -10.400 -.700l-2.200 -2.200 -7.400 .700q-4 -.500 -4.800 -2.600z" class="f" style="stroke:#444;stroke-width:.9"/>
<path d="M402 499q6 -3 14 -2.500t11 .500M403 500.500q6 1 12 0l12 -3" class="t"/><ellipse cx="399" cy="497.400" rx="1.600" ry=".8"/>
<path d="M430 493.500L471.700 480.500 471.700 482.500 444 491.500 432 494.500z" class="f"/>
<path d="M395 484.200L535 440.800 552.500 443.300 552.500 451.700 545 456.700 413.300 493.300 401.700 493.300 395 490.800z" class="f"/>
<path d="M395 484.200l17.500 1.800 140 -42.700M412.500 486v7.300M401.700 486v7M395 487.500l6.700 1.500M413.300 489.500L546 452.500" /><path d="M408.600 484.300L541 443.900" style="stroke:#333;stroke-width:1.200"/>
<path d="M545 456.700v-12.500" style="stroke:#333;stroke-dasharray:2 1.200"/>
<path d="M397 486.500v3.500M399 487v3.500M404 487.500v4M407 488v4M410 488v4" style="stroke:#333;stroke-width:.8"/>
<path d="M440 473.500L478 461.800" style="stroke:#555;stroke-width:.8;stroke-dasharray:1.500 1"/>
<path d="M448.500 470l5 -1.500q1.500 0 1.500 1.500t-1.500 2l-5 1.500z" class="f"/>
<path d="M491.700 453q-.500 -4.500 4 -5.500l12 -1.500q5 0 8 3l3 4 -6 2.500 -12 1.500z" class="f" style="stroke:#333;stroke-width:.9"/>
<path d="M494 447.500q-3 1 -2.500 4.500t4 2.500l2 -5zM503 447.500q-3 2.500 -.500 5.500t8 1M506 448.500a3 2 0 1 0 .1 0M512 449l5 1.500" style="stroke:#333"/>
<path d="M465.8 460.7v-4.800q0 -1.900 2.500 -1.900t2.500 1.900v4.800" class="f"/><path d="M465.8 456.2q2.500 1.300 5 0" class="t"/>
<path d="M520.8 444.9v-4.800q0 -1.900 2.500 -1.900t2.500 1.900v4.800" class="f"/><path d="M520.8 440.4q2.500 1.300 5 0" class="t"/>
</g>
<g class="p">
<path d="M803.900 555.600L812 553.500 838 553.500 845.500 556.500 842 559.500 829 560 812 559.400 805 558z" class="f" style="stroke:#333;stroke-width:.9"/>
<path d="M806 556.800l8 1.200 26 -.800M812 555.500h10" class="t"/>
<path d="M892.400 541q2 -3 10 -3.500l10 1q3 1.500 2 4t-8 2.500q-12 0 -14 -4z" class="f" style="stroke:#333;stroke-width:.9"/>
<ellipse cx="904" cy="541.200" rx="4" ry="1.500" class="t"/>
<path d="M826.300 544L971.400 501.300 983.100 503.900 983.100 512.400 975.600 517.700 841.200 557.200 833 556 826.300 551.500z" class="f"/>
<path d="M826.300 544l11 2.500 145.800 -42.600M837.300 546.500v10M826.300 547.500l7 2M841.200 552.500L976 513" /><path d="M838 544.800L976 504.200" style="stroke:#333;stroke-width:1.200"/>
<path d="M976 517v-12.500" style="stroke:#333;stroke-dasharray:2 1.200"/>
<path d="M829 546.500v4M831.500 547v4M840 548.500l6 -1.800v5.500l-6 1.800z" style="stroke:#333;stroke-width:.8"/>
<path d="M846 545.500L868 539" style="stroke:#444;stroke-width:.9"/>
<path d="M868 533.500l27 -8 1 4 -2 3.500 1 4.500 -3 3 -24 7q-2 -3.500 -1 -7t1 -7z" class="f"/>
<path d="M869 537.500l26 -7.500" class="t"/>
<path d="M914.800 513q-.500 -4.500 4 -5.500l12 -1.500q5 0 8 3l4 4.500 -6 2.500 -13 1.500z" class="f" style="stroke:#333;stroke-width:.9"/>
<path d="M917 507.500q-3 1 -2.500 4.500t4 2.500l2 -5zM926 507.500q-3 2.500 -.500 5.500t8 1M929 508.500a3 2 0 1 0 .1 0M935 509l6 2" style="stroke:#333"/>
<path d="M896.7 523.1v-4.800q0 -1.900 2.500 -1.900t2.500 1.900v4.800" class="f"/><path d="M896.7 518.6q2.500 1.300 5 0" class="t"/>
<path d="M951.8 506.0v-4.800q0 -1.900 2.500 -1.900t2.500 1.900v4.800" class="f"/><path d="M951.8 501.5q2.500 1.300 5 0" class="t"/>
<path d="M851 560.500v2.500M963 520.500l2 1.500" />
</g>
<g transform="translate(574.4 463.3) rotate(9.3)" class="p"><path d="M0 -.8H21.684326136636088V.8H0z" style="fill:#aaa;stroke:#444;stroke-width:.7"/><path d="M6.5 -1.300H13.4V1.300H6.5z" class="f" style="stroke:#333;stroke-width:.8"/><path d="M0 -.8V.8M21.684326136636088 -.8V.8" style="stroke:#333;stroke-width:1.200"/></g>
<g transform="translate(720.3 484) rotate(9.6)" class="p"><path d="M0 -.8H25.76140524117434V.8H0z" style="fill:#aaa;stroke:#444;stroke-width:.7"/><path d="M7.7 -1.300H16.0V1.300H7.7z" class="f" style="stroke:#333;stroke-width:.8"/><path d="M0 -.8V.8M25.76140524117434 -.8V.8" style="stroke:#333;stroke-width:1.200"/></g>
<g class="p">
<g transform="translate(641.700 472.900) rotate(8)"><path d="M-12 -1.100H-4V1.100H-12z" class="f"/><path d="M0 -6.800H34V6.800H0L-4.500 2.200V-2.200z" class="f"/><path d="M0 -6.800q-2 6.800 0 13.600" /><path d="M35 -1.600H49.500V1.600H35z" class="f"/><path d="M48.200 -1.600h1.600v3.200h-1.600z" style="fill:#333"/><ellipse cx="34" cy="0" rx="4.400" ry="6.800" class="g"/><ellipse cx="34.500" cy="0" rx="2.900" ry="4.800" style="fill:#c4c4c4"/><path d="M32.500 -4l4 8M32.500 4l4 -8M31 0h7" style="stroke:#666;stroke-width:.8"/><ellipse cx="35" cy="0" rx="1.400" ry="2.200" class="f"/><path d="M30 -6.800a4.400 6.800 0 0 0 0 13.600" class="t"/></g>
</g>
<g class="p">
<path d="M634.900 496.700L634 507.800 657.400 510.700 667.700 507.800 675.300 509.500 686.400 506.100 686.400 499.300 650 494z" style="fill:#e3e3e3"/>
<path d="M648 498.500L636.200 506.100M656.500 499.700L642.200 507.800M664.200 501L649.800 509.500M671 502.200L659.200 509.500" style="stroke:#4a4a4a;stroke-width:1.150"/>
<path d="M634.900 492.400L636 490.500 637.500 490.700 638.500 492.800 641.300 493.200 641.600 489.200 643.400 488.400 644.600 489.600 644.800 493.800 675 498 676 495.500 677.500 495.300 679 498.400 681.300 498.700 681.800 494.300 683.300 493.700 684.300 495 686.400 499.300 686.400 506.100 681 507.800 676 503 634.900 496.700z" style="fill:#cfcfcf;stroke:#444;stroke-width:.8"/>
<path d="M646.500 494.800v3.200M651.500 495.500v3.200M657 496.200v3.200M663 497v3.200M669 497.800v3.200M675.500 498.200v9.800M681 499v8.500" style="stroke:#555"/>
<path d="M648 495.500h2.500v2.200h-2.500zM653 496.200h3v2.200h-3zM658.500 497h3.500v2.200h-3.500zM664.500 497.800h3.500v2.200h-3.500z" style="fill:#f4f4f4;stroke:none"/>
<path d="M667.700 507.800l-1 -3.500 8.500 -1.200" />
</g>
<g class="p">
<path d="M557.900 683.700L560.600 682 574.600 681 583.400 678.400 585.200 674.900 592.200 673.600 671.400 652 678.400 648.500 689 649.400 701.300 651.100 711.900 653.800 725.900 654.600 733.800 656.400 733 659 718.900 660.800 712.700 662.500 712.700 667.800 650.300 687.200 649.400 690.700 632.700 688.900 627.400 692.500 618.600 694.200 601 691.600 596.600 686.300 592.200 684.500 578.100 685.400 574.600 687.200 560.600 686.300z" class="f"/>
<path d="M559 684.500l15 .800 4 -1.700 14 -.800 5 2 4.500 5 16.500 2.400 8 -3.300 4 -2 17 1.700M592 682.500L690 655.500M585.200 679.300L685.500 652M589 681L689 654M596 686L712.700 664.500M650.300 687.200l-2 -3.500 -14 2.500" />
<path d="M586 678L684 651.500" style="stroke:#333;stroke-width:1.200"/>
<path d="M562 683.200h6M588 676.500l5 -1M680 650.500l8 .500M716 656.500l10 .500M604 690.500h6M636 687l8 -1.500 3 1.500" class="t"/>
<path d="M609.6 671.8l.600 -1.600h2.800l.600 1.600v1.400h-4z" class="f"/>
<path d="M611.6 659V670.3" style="stroke:#2a2a2a;stroke-width:2.100;stroke-linecap:round"/>
<path d="M630.3 665.7l.600 -1.600h2.800l.600 1.600v1.400h-4z" class="f"/>
<path d="M632.3 652.9V664.2" style="stroke:#2a2a2a;stroke-width:2.100;stroke-linecap:round"/>
<path d="M651.4 658.6l.600 -1.600h2.800l.600 1.600v1.400h-4z" class="f"/>
<path d="M653.4 646.7V657.1" style="stroke:#2a2a2a;stroke-width:2.100;stroke-linecap:round"/>
<path d="M672.4 653.4l.600 -1.600h2.800l.600 1.600v1.400h-4z" class="f"/>
<path d="M674.4 640.2V651.9" style="stroke:#2a2a2a;stroke-width:2.100;stroke-linecap:round"/>
<path d="M641.8 678.0l.600 -1.600h2.800l.600 1.600v1.400h-4z" class="f"/>
<path d="M643.8 664.3V676.5" style="stroke:#2a2a2a;stroke-width:2.100;stroke-linecap:round"/>
<path d="M662.7 671.8l.600 -1.600h2.800l.600 1.600v1.400h-4z" class="f"/>
<path d="M664.7 658.1V670.3" style="stroke:#2a2a2a;stroke-width:2.100;stroke-linecap:round"/>
<path d="M683.5 664.8l.600 -1.600h2.800l.600 1.600v1.400h-4z" class="f"/>
<path d="M685.5 652V663.3" style="stroke:#2a2a2a;stroke-width:2.100;stroke-linecap:round"/>
<path d="M704.2 659.5l.600 -1.600h2.800l.600 1.600v1.400h-4z" class="f"/>
<path d="M706.2 645V658" style="stroke:#2a2a2a;stroke-width:2.100;stroke-linecap:round"/>
</g>
<g class="p">
<path d="M770.100 279L779.300 270.900 803.200 269.300 803.700 268.300 829.200 261.200 830.200 257.600 833.200 255.100 838.300 256.100 840.400 259.700 869.900 262.700 869.900 265.300 855.600 270.400 855.600 275.500 851.500 274.400 849.500 272.400 828.100 280.500 826.100 284.600 824 284.600 823 280.500 814.900 282.600 814.900 287.200 812.900 287.200 812.900 283.600 805.700 285.600 801.700 284.600 801.700 281.600 794.500 281.600 778.200 279.500 771.100 280.500z" class="f"/>
<path d="M802.700 282.300L869.900 264" style="stroke:#777;stroke-width:2.400;stroke-dasharray:.6 1.200;stroke-linecap:butt"/>
<path d="M802.200 280.800L869.500 262.600" style="stroke:#444;stroke-width:.7"/>
<path d="M779.300 270.900l2 6.500 20 1 3 -1.500 -1.100 -7.600M781.300 277.400l-10 2.500M806 275q14 -1 26 -8.500t9 -6.800M804 271.500q16 -1.500 26 -10M833.200 255.100v4l5 1M830.200 257.600l3 1.500M845 262q-3 4 -14 8" />
<path d="M770.500 278.500l5 -1.500M771 280l5 -1" style="stroke:#333;stroke-width:1"/>
</g>
<g class="p">
<path d="M775.200 194.600L807.400 184.300 869.700 194 869.700 195.500 838 204.800 830.600 202.900 830.600 201.100 848.300 197.400 847.400 193.600 839.900 190.900 823.200 191.800 806.500 189.900 777.700 197z" class="f"/>
<path d="M775.200 194.600l2.500 1.100 28.800 -7 16.700 2 16.700 -1 8 3 1 4 -17.500 3.800M869.700 194l-31.700 9.300 -7.400 -2" />
<path d="M777.700 196.500l28.800 -7M831 202.500l7 1.800 31.500 -9.200" style="stroke:#555;stroke-width:1"/>
</g>
<g class="p">
<path d="M830.300 176.500L874.300 163.500 944.400 173.200 944.400 174.900 898.500 188.600 830.300 178z" class="f"/>
<path d="M830.300 176.500L898.500 187.100 944.400 173.200" />
<path d="M830.300 177.500L898.500 188.100 944.400 174.300" style="stroke:#444;stroke-width:1.100"/>
</g>
<g class="p">
<path d="M1026 226.900l5.800 -.400 -11.700 51.700 -4.800 .600z" class="f"/>
<path d="M1020.500 253.500l4 .500q1.500 1.500 1 3.500t-2.500 2.500l-3.500 -.500" class="f"/>
<path d="M993.500 222.500q-.500 -4 3 -4.500t4.500 2.500l-.500 3zM1025.500 227q-.500 -4 3 -4.500t4 3.500l-1 2.500z" class="f"/>
<circle cx="997.100" cy="219.800" r="1.100"/><circle cx="1028.900" cy="224.300" r="1.100"/>
<path d="M992.400 222.300L1026 226.900 1015.300 278.800 976.300 271.400z" class="f"/>
<path d="M994 225L1013 275.500M1023.500 230L979 268.500" style="stroke:#444;stroke-width:1"/><path d="M993.500 224.500l30.500 4.500 -10 47 -35 -6.500z" />
<path d="M992.800 223.700a1.200 1.200 0 1 0 .1 0M1023.800 229.200a1.200 1.200 0 1 0 .1 0M997.500 269.700a1 1 0 1 0 .1 0" style="fill:#444"/>
<path d="M978 272l36 6.800M981 274h4M988 275.300h6M997 276.700h5M1004 277.500h4" style="stroke:#333;stroke-width:1"/>
</g>
<g class="p"><circle cx="997.7" cy="197.3" r="3" style="fill:#ececec;stroke:#666"/><circle cx="997.7" cy="197.3" r="1.700" style="fill:#cfcfcf;stroke:#777;stroke-width:.6"/><circle cx="998.0" cy="197.0" r=".7" class="f" style="stroke:none"/></g>
<g class="p"><circle cx="1047.4" cy="239.2" r="3" style="fill:#ececec;stroke:#666"/><circle cx="1047.4" cy="239.2" r="1.700" style="fill:#cfcfcf;stroke:#777;stroke-width:.6"/><circle cx="1047.7" cy="238.89999999999998" r=".7" class="f" style="stroke:none"/></g>
<g class="p"><circle cx="1043.1" cy="272.4" r="3" style="fill:#ececec;stroke:#666"/><circle cx="1043.1" cy="272.4" r="1.700" style="fill:#cfcfcf;stroke:#777;stroke-width:.6"/><circle cx="1043.3999999999999" cy="272.09999999999997" r=".7" class="f" style="stroke:none"/></g>
<g transform="translate(928.3 276.8) rotate(38.1)" class="p"><path d="M2 -1.1H7.461961026293918l.8 .6V0.5000000000000001l-.8 .6H2z" class="f"/><path d="M0 -2.3H2V2.3H0" class="f"/><ellipse cx="0" cy="0" rx="1.43" ry="2.3" class="g"/><ellipse cx="0" cy="0" rx="0.71" ry="1.15" class="fd"/></g>
<g transform="translate(906 307.3) rotate(38.2)" class="p"><path d="M2 -1.1H8.102246907382428l.8 .6V0.5000000000000001l-.8 .6H2z" class="f"/><path d="M0 -2.3H2V2.3H0" class="f"/><ellipse cx="0" cy="0" rx="1.43" ry="2.3" class="g"/><ellipse cx="0" cy="0" rx="0.71" ry="1.15" class="fd"/></g>
<g transform="translate(929.5 310.1) rotate(35.0)" class="p"><path d="M2 -1.1H7.38413098624408l.8 .6V0.5000000000000001l-.8 .6H2z" class="f"/><path d="M0 -2.3H2V2.3H0" class="f"/><ellipse cx="0" cy="0" rx="1.43" ry="2.3" class="g"/><ellipse cx="0" cy="0" rx="0.71" ry="1.15" class="fd"/></g>
<g class="p">
<path d="M969 311l4.500 3 3 6 -.500 8 .800 8 -2 7 -3 8 -4 5 -4 -3 3 -20z" class="f"/>
<path d="M972 317l3 7 -1 9 1 7 -3 8M969 330l4 2M970 340l4 1M968 349l5 3 -2 3" style="stroke:#444"/>
<path d="M965.600 298.500l5 -1.500 5 1 2.500 3.500 -.500 4.500 -3 1.500 -3.500 -1 -1 2.500 -4.500 .500z" class="f" style="stroke:#333;stroke-width:1"/>
<path d="M967.500 300l6.500 1.500 2.500 3M969 303.500l5 1M972 298l2.500 1.500 2.500 4.500 -2 2.500" style="stroke:#2e2e2e;stroke-width:1.200"/>
<circle cx="964.500" cy="309.500" r="1.500" style="stroke:#333"/>
<path d="M956.700 293.900L966.700 296.100 963.400 301.700 963.400 307.300 969 310.600 973.400 318.400 971.200 331.800 969 347.400 969 356.300 963.400 360.700 946.700 354 943.400 345.100 945.600 338.500z" class="f"/>
<path d="M958.500 296.500l-11 43M964 309l5.500 9 -3 30" class="t"/>
<circle cx="961.700" cy="317.300" r="1.500" class="t"/><circle cx="959" cy="328.400" r="1.500" class="t"/>
<circle cx="957.3" cy="295" r="1.2" style="fill:#222;stroke:#222"/>
<circle cx="952.3" cy="314.5" r="1.5" style="fill:#222;stroke:#222"/>
<circle cx="971.8" cy="317.9" r="1.7" style="fill:#222;stroke:#222"/>
<circle cx="955.6" cy="340.7" r="2.7" style="fill:#222;stroke:#222"/>
<circle cx="956.7" cy="347.9" r="1.9" style="fill:#222;stroke:#222"/>
<circle cx="965.6" cy="347.9" r="1.8" style="fill:#222;stroke:#222"/>
<circle cx="943.6" cy="344.6" r="1.5" style="fill:#222;stroke:#222"/>
<circle cx="955.600" cy="340.700" r="1" style="fill:#777;stroke:none"/>
<path d="M946 345.500l4 -2 12 2.500 1 3 -6 1.500 -9 -1.500z" class="f"/>
<path d="M944.500 349.500l3 6 8 3.500 9 2.500 5 -4M947 352l7 1 3 4M952 351v6M958 353.500l2 5M962 352l1 7M949 356l10 4" style="stroke:#333;stroke-width:.9"/>
<path d="M943 337.500l2 -1.500 1.500 1 -1 5 -2 -.500z" class="f"/>
</g>
<path d="M35.8 284.2 L84.2 294.7" class="ds"/>
<path d="M296.8 280 L278 312.5" class="ds"/>
<path d="M259.5 344.5 L236 385.2" class="ds"/>
<path d="M468 154.3 L487.2 169.9 L548 85.4" class="ds"/>
<path d="M548 85.4 L621 140" class="ds"/>
<path d="M471.5 286.4 L491.7 289.8" class="ds"/>
<path d="M537.6 288.6 L611.2 268.9" class="ds"/>
<path d="M632.7 279 L632.7 549" class="ds"/>
<path d="M690.8 373 L690.8 292.3 L840.6 310.3 L840.6 244.2" class="ds"/>
<path d="M614.8 340 L614.8 399" class="ds"/>
<path d="M704.3 336 L704.3 392.6" class="ds"/>
<path d="M413.4 443.4 L413.4 492.3" class="ds"/>
<path d="M537.5 400 L537.5 438" class="ds"/>
<path d="M533.500 457.900l5.500 .800M549.500 460.100l4 .600" class="ds" style="stroke-dasharray:none"/>
<path d="M611.1 468.9 L638 473.2" class="ds"/>
<path d="M691.2 480 L720.1 484" class="ds"/>
<path d="M765.7 490.2 L903.1 509.9" class="ds"/>
<path d="M905.5 465.9 L905.5 538" class="ds"/>
<path d="M968.6 483.6 L968.6 501.7" class="ds"/>
<path d="M814.1 525.2 L814.1 551.9" class="ds"/>
<path d="M567.4 629 L567.4 676" class="ds"/>
<path d="M726.3 600 L726.3 650.6" class="ds"/>
<path d="M912.6 312.5 L942.4 337" class="ds"/>
<circle cx="17.8" cy="222.4" r="9.2" class="lc"/>
<text x="17.8" y="227.0" class="lt">5</text>
<circle cx="60.3" cy="234.2" r="9.2" class="lc"/>
<text x="60.3" y="238.79999999999998" class="lt">2</text>
<circle cx="98.3" cy="241.7" r="9.2" class="lc"/>
<text x="98.3" y="246.29999999999998" class="lt">1</text>
<circle cx="132.8" cy="250.5" r="9.2" class="lc"/>
<text x="132.8" y="255.1" class="lt">2</text>
<circle cx="188.4" cy="261.2" r="9.2" class="lc"/>
<text x="188.4" y="265.8" class="lt">3</text>
<circle cx="253.9" cy="263.6" r="9.2" class="lc"/>
<text x="253.9" y="268.20000000000005" class="lt">4</text>
<circle cx="272.3" cy="227.7" r="9.2" class="lc"/>
<text x="272.3" y="232.29999999999998" class="lt">6</text>
<circle cx="195" cy="362" r="9.2" class="lc"/>
<text x="195" y="366.6" class="lt">7</text>
<circle cx="534.4" cy="163.2" r="9.2" class="lc"/>
<text x="534.4" y="167.79999999999998" class="lt">10</text>
<circle cx="416" cy="231.5" r="9.2" class="lc"/>
<text x="416" y="236.1" class="lt">9</text>
<circle cx="441.6" cy="327.8" r="9.2" class="lc"/>
<text x="441.6" y="332.40000000000003" class="lt">14</text>
<circle cx="484.3" cy="328" r="9.2" class="lc"/>
<text x="484.3" y="332.6" class="lt">13</text>
<circle cx="662.6" cy="299.2" r="9.2" class="lc"/>
<text x="662.6" y="303.8" class="lt">16</text>
<circle cx="590.2" cy="334.9" r="9.2" class="lc"/>
<text x="590.2" y="339.5" class="lt">10</text>
<circle cx="729.7" cy="329.1" r="9.2" class="lc"/>
<text x="729.7" y="333.70000000000005" class="lt">10</text>
<circle cx="802.3" cy="331.1" r="9.2" class="lc"/>
<text x="802.3" y="335.70000000000005" class="lt">16</text>
<circle cx="801.8" cy="387.4" r="9.2" class="lc"/>
<text x="801.8" y="392.0" class="lt">15</text>
<circle cx="799.4" cy="139.7" r="9.2" class="lc"/>
<text x="799.4" y="144.29999999999998" class="lt">11</text>
<circle cx="903.1" cy="138.8" r="9.2" class="lc"/>
<text x="903.1" y="143.4" class="lt">12</text>
<circle cx="850.1" cy="221.2" r="9.2" class="lc"/>
<text x="850.1" y="225.79999999999998" class="lt">10</text>
<circle cx="898.3" cy="263.5" r="9.2" class="lc"/>
<text x="898.3" y="268.1" class="lt">8</text>
<circle cx="961.6" cy="205.7" r="9.2" class="lc"/>
<text x="961.6" y="210.29999999999998" class="lt">26</text>
<circle cx="1054.6" cy="194.8" r="9.2" class="lc"/>
<text x="1054.6" y="199.4" class="lt">27</text>
<circle cx="898.3" cy="285.4" r="9.2" class="lc"/>
<text x="898.3" y="290.0" class="lt">29</text>
<circle cx="911.1" cy="353.4" r="9.2" class="lc"/>
<text x="911.1" y="358.0" class="lt">28</text>
<circle cx="491.7" cy="405.6" r="9.2" class="lc"/>
<text x="491.7" y="410.20000000000005" class="lt">20</text>
<circle cx="381.6" cy="437.8" r="9.2" class="lc"/>
<text x="381.6" y="442.40000000000003" class="lt">19</text>
<circle cx="404.5" cy="540" r="9.2" class="lc"/>
<text x="404.5" y="544.6" class="lt">18</text>
<circle cx="584.2" cy="494.3" r="9.2" class="lc"/>
<text x="584.2" y="498.90000000000003" class="lt">24</text>
<circle cx="734.3" cy="443.6" r="9.2" class="lc"/>
<text x="734.3" y="448.20000000000005" class="lt">24</text>
<circle cx="723" cy="511.2" r="9.2" class="lc"/>
<text x="723" y="515.8" class="lt">21</text>
<circle cx="723.5" cy="531.6" r="9.2" class="lc"/>
<text x="723.5" y="536.2" class="lt">22</text>
<circle cx="597.1" cy="552.3" r="9.2" class="lc"/>
<text x="597.1" y="556.9" class="lt">23</text>
<circle cx="723" cy="555" r="9.2" class="lc"/>
<text x="723" y="559.6" class="lt">23</text>
<circle cx="944" cy="428.1" r="9.2" class="lc"/>
<text x="944" y="432.70000000000005" class="lt">19</text>
<circle cx="943.2" cy="460.1" r="9.2" class="lc"/>
<text x="943.2" y="464.70000000000005" class="lt">20</text>
<circle cx="825.6" cy="599.5" r="9.2" class="lc"/>
<text x="825.6" y="604.1" class="lt">17</text>
<circle cx="760.2" cy="594.6" r="9.2" class="lc"/>
<text x="760.2" y="599.2" class="lt">19</text>
<circle cx="527" cy="621" r="9.2" class="lc"/>
<text x="527" y="625.6" class="lt">19</text>
<circle cx="526.5" cy="683.1" r="9.2" class="lc"/>
<text x="526.5" y="687.7" class="lt">25</text>
<circle cx="869.5" cy="719.2" r="4.5" fill="#f0453a"/>
<circle cx="869.5" cy="732.6" r="4.5" fill="#fbe13c"/>
<circle cx="869.5" cy="746" r="4.5" fill="#3fa94a"/>
</svg>
</body></html>
